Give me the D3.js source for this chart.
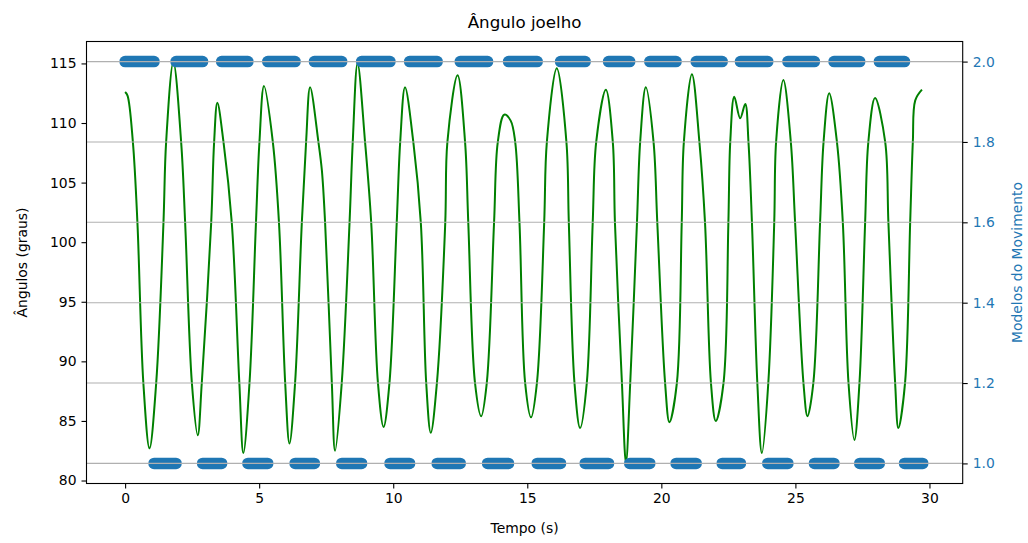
<!DOCTYPE html>
<html>
<head>
<meta charset="utf-8">
<script src="https://cdn.jsdelivr.net/npm/d3@7"></script>
<style>
  body { margin: 0; background: #fff; }
  svg { display: block; font-family: "DejaVu Sans", sans-serif; }
</style>
</head>
<body>
<div id="chart"></div>
<script>
// tempo (s) e angulo do joelho (graus)
const tempo = [0.00, 0.09, 0.29, 0.46, 0.68, 0.91, 1.16, 1.43, 1.53, 1.80, 2.09, 2.24, 2.49, 2.71, 2.86,
  3.21, 3.32, 3.44, 3.67, 3.98, 4.26, 4.41, 4.64, 4.88, 5.01, 5.18, 5.51, 5.74, 5.97, 6.13, 6.34,
  6.59, 6.75, 6.90, 7.21, 7.34, 7.46, 7.71, 7.83, 8.08, 8.37, 8.49, 8.67, 8.95, 9.18, 9.43, 9.64, 9.86,
  10.13, 10.26, 10.44, 10.75, 11.03, 11.23, 11.40, 11.63, 11.94, 12.02, 12.40, 12.68, 12.80, 13.05, 13.28, 13.49,
  13.76, 13.90, 14.14, 14.38, 14.55, 14.71, 14.92, 15.14, 15.36, 15.63, 15.73, 16.10, 16.46, 16.55, 16.76, 16.97, 17.22,
  17.44, 17.57, 17.93, 18.19, 18.27, 18.53, 18.68, 18.84, 19.09, 19.21, 19.42, 19.71, 19.85, 20.14, 20.30, 20.58,
  20.76, 20.84, 21.14, 21.42, 21.63, 21.85, 22.03, 22.32, 22.50, 22.57, 22.72, 22.94, 23.13, 23.25, 23.38, 23.58, 23.75, 23.99,
  24.21, 24.28, 24.55, 24.83, 24.99, 25.30, 25.45, 25.67, 25.92, 26.05, 26.26, 26.55, 26.77, 26.98, 27.20, 27.39,
  27.60, 27.72, 27.97, 28.35, 28.47, 28.72, 28.84, 29.09, 29.28, 29.38, 29.47, 29.72];
const angulo = [112.6, 112.3, 108.4, 101.6, 88.2, 82.7, 88.2, 101.6, 108.4, 115.1, 108.4, 101.6, 88.2, 83.8, 88.2,
  101.6, 108.4, 111.7, 108.4, 101.6, 88.2, 82.3, 88.2, 101.6, 108.4, 113.1, 108.4, 101.6, 88.2, 83.1, 88.2,
  101.6, 108.4, 113.0, 108.4, 106.0, 101.6, 88.2, 82.5, 88.2, 101.6, 108.4, 115.0, 108.4, 101.6, 88.2, 84.5, 88.2,
  101.6, 108.4, 113.0, 108.4, 101.6, 88.2, 84.0, 88.2, 101.6, 108.4, 114.0, 108.4, 101.6, 88.2, 85.4, 88.2,
  101.6, 108.4, 110.7, 110.2, 108.4, 101.6, 88.2, 85.3, 88.2, 101.6, 108.4, 114.6, 108.4, 101.6, 88.2, 84.4, 88.2,
  101.6, 108.4, 112.8, 108.4, 101.6, 88.2, 81.5, 88.2, 101.6, 108.4, 113.0, 108.4, 101.6, 88.2, 84.9, 88.2,
  101.6, 108.4, 114.1, 108.4, 101.6, 88.2, 85.0, 88.2, 101.6, 108.4, 112.2, 110.4, 111.6, 108.4, 101.6, 88.2, 82.3, 88.2,
  101.6, 108.4, 113.6, 108.4, 101.6, 88.2, 85.4, 88.2, 101.6, 108.4, 112.5, 108.4, 101.6, 88.2, 83.4, 88.2,
  101.6, 108.4, 112.1, 108.4, 101.6, 88.2, 84.4, 88.2, 101.6, 108.4, 111.9, 112.8];

// instantes de troca do modelo de movimento e o modelo em cada trecho
const trocasModelo = [0, 1.08, 1.9, 2.89, 3.6, 4.58, 5.32, 6.34, 7.06, 8.08, 8.82, 9.88, 10.61, 11.64, 12.5,
  13.52, 14.3, 15.37, 16.24, 17.16, 18.03, 18.82, 19.57, 20.55, 21.3, 22.27, 22.95, 23.97, 24.72,
  25.71, 26.44, 27.4, 28.13, 29.07, 29.75];
const modelos = [2, 1, 2, 1, 2, 1, 2, 1, 2, 1, 2, 1, 2, 1, 2, 1, 2,
  1, 2, 1, 2, 1, 2, 1, 2, 1, 2, 1, 2, 1, 2, 1, 2, 1];

const ticksTempo = [0, 5, 10, 15, 20, 25, 30];
const ticksAngulo = [80, 85, 90, 95, 100, 105, 110, 115];
const ticksModelo = [1.0, 1.2, 1.4, 1.6, 1.8, 2.0];

const width = 1028, height = 543;
const margin = { left: 86.5, right: 65.3, top: 41.5, bottom: 59.5 };
const azul = "#1f77b4";

const svg = d3.select("#chart").append("svg")
  .attr("width", width)
  .attr("height", height);

const x = d3.scaleLinear().domain([-1.44, 31.24]).range([margin.left, width - margin.right]);
const y = d3.scaleLinear().domain([79.75, 116.84]).range([height - margin.bottom, margin.top]);
const y2 = d3.scaleLinear().domain([0.95, 2.05]).range([height - margin.bottom, margin.top]);

// linha do angulo
const linha = d3.line()
  .x((d, i) => x(tempo[i]))
  .y(d => y(d))
  .curve(d3.curveCatmullRom.alpha(0.5));

svg.append("path")
  .datum(angulo)
  .attr("d", linha)
  .attr("fill", "none")
  .attr("stroke", "green")
  .attr("stroke-width", 2);

// modelos do movimento (marcadores densos)
svg.append("g")
  .selectAll("line")
  .data(modelos)
  .join("line")
  .attr("x1", (d, i) => x(trocasModelo[i]))
  .attr("x2", (d, i) => x(trocasModelo[i + 1]))
  .attr("y1", d => y2(d))
  .attr("y2", d => y2(d))
  .attr("stroke", azul)
  .attr("stroke-width", 11.5)
  .attr("stroke-linecap", "round");

// grade do eixo direito
svg.append("g")
  .selectAll("line")
  .data(ticksModelo)
  .join("line")
  .attr("x1", margin.left)
  .attr("x2", width - margin.right)
  .attr("y1", d => y2(d))
  .attr("y2", d => y2(d))
  .attr("stroke", "#b0b0b0")
  .attr("stroke-width", 1.1);

// eixos
const eixoX = svg.append("g")
  .attr("transform", `translate(0,${height - margin.bottom})`)
  .call(d3.axisBottom(x).tickValues(ticksTempo).tickFormat(d3.format("d")).tickSize(5).tickPadding(5));

const eixoY = svg.append("g")
  .attr("transform", `translate(${margin.left},0)`)
  .call(d3.axisLeft(y).tickValues(ticksAngulo).tickFormat(d3.format("d")).tickSize(5).tickPadding(5));

const eixoY2 = svg.append("g")
  .attr("transform", `translate(${width - margin.right},0)`)
  .call(d3.axisRight(y2).tickValues(ticksModelo).tickFormat(d3.format(".1f")).tickSize(5).tickPadding(5));

[eixoX, eixoY, eixoY2].forEach(g => {
  g.select(".domain").remove();
  g.selectAll("line").attr("stroke", "#000").attr("stroke-width", 1.1);
  g.selectAll("text")
    .attr("fill", "#000")
    .style("font-size", "13.9px")
    .style("font-family", "DejaVu Sans");
});
eixoY2.selectAll("text").attr("fill", azul);

// moldura
svg.append("rect")
  .attr("x", margin.left)
  .attr("y", margin.top)
  .attr("width", width - margin.left - margin.right)
  .attr("height", height - margin.top - margin.bottom)
  .attr("fill", "none")
  .attr("stroke", "#000")
  .attr("stroke-width", 1.1);

// textos
const cx = (margin.left + width - margin.right) / 2;
const cy = (margin.top + height - margin.bottom) / 2;

svg.append("text")
  .attr("x", cx)
  .attr("y", 28)
  .attr("text-anchor", "middle")
  .style("font-size", "16.7px")
  .text("Ângulo joelho");

svg.append("text")
  .attr("x", cx)
  .attr("y", 533)
  .attr("text-anchor", "middle")
  .style("font-size", "13.9px")
  .text("Tempo (s)");

svg.append("text")
  .attr("transform", `translate(27,${cy}) rotate(-90)`)
  .attr("text-anchor", "middle")
  .style("font-size", "13.9px")
  .text("Ângulos (graus)");

svg.append("text")
  .attr("transform", `translate(1022,${cy}) rotate(-90)`)
  .attr("text-anchor", "middle")
  .attr("fill", azul)
  .style("font-size", "13.9px")
  .text("Modelos do Movimento");
</script>
</body>
</html>
